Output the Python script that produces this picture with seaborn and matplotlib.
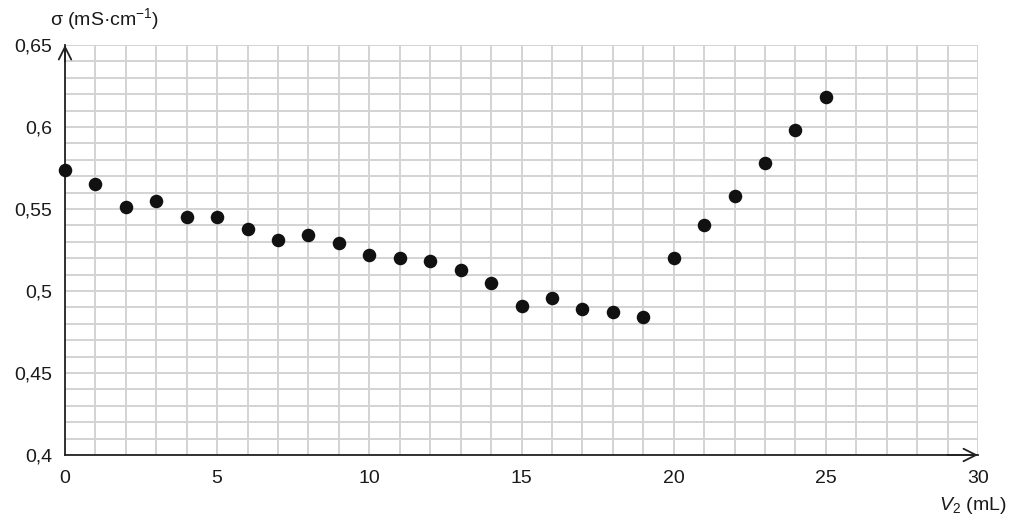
import numpy as np
import pandas as pd
import matplotlib
matplotlib.use("Agg")
import matplotlib.pyplot as plt
import seaborn as sns
from matplotlib.ticker import MultipleLocator, FuncFormatter

# ------------------------------------------------------------
# Data
# ------------------------------------------------------------
volume_ml = [0, 1, 2, 3, 4, 5, 6, 7, 8, 9, 10, 11, 12,
             13, 14, 15, 16, 17, 18, 19, 20, 21, 22, 23, 24, 25]
conductivity = [0.574, 0.565, 0.551, 0.555, 0.545, 0.545, 0.538, 0.531,
                0.534, 0.529, 0.522, 0.520, 0.518, 0.513, 0.505, 0.491,
                0.496, 0.489, 0.487, 0.484, 0.520, 0.540, 0.558, 0.578,
                0.598, 0.618]

x_ticks = [0, 5, 10, 15, 20, 25, 30]
y_ticks = [0.4, 0.45, 0.5, 0.55, 0.6, 0.65]

df = pd.DataFrame({"V2": volume_ml, "sigma": conductivity})

sns.set_style("white")
plt.rcParams["font.family"] = ["Liberation Sans", "DejaVu Sans"]
plt.rcParams["mathtext.fontset"] = "custom"
plt.rcParams["mathtext.rm"] = "Liberation Sans"
plt.rcParams["mathtext.it"] = "Liberation Sans:italic"

fig = plt.figure(figsize=(10.24, 5.30), dpi=100)
ax = fig.add_axes([65 / 1024, 75 / 530, 913 / 1024, 410 / 530])

ax.set_xlim(0, 30)
ax.set_ylim(0.4, 0.65)

# grid: every 1 mL and every 0.01 mS/cm
ax.xaxis.set_minor_locator(MultipleLocator(1))
ax.yaxis.set_minor_locator(MultipleLocator(0.01))
ax.set_xticks(x_ticks)
ax.set_yticks(y_ticks)
ax.grid(which="both", color="#d3d3d3", linewidth=1.4, zorder=0)
ax.set_axisbelow(True)

comma = FuncFormatter(lambda v, _: f"{v:g}".replace(".", ","))
ax.xaxis.set_major_formatter(comma)
ax.yaxis.set_major_formatter(comma)

ax.tick_params(which="major", direction="inout", length=12, width=1.2,
               color="#222222", labelsize=14, labelcolor="#1a1a1a")
ax.tick_params(which="minor", direction="inout", length=8, width=1.0,
               color="#222222")
ax.tick_params(axis="x", which="major", pad=5)
ax.tick_params(axis="y", which="major", pad=3)

for side in ["top", "right"]:
    ax.spines[side].set_visible(False)
for side in ["left", "bottom"]:
    ax.spines[side].set_color("#222222")
    ax.spines[side].set_linewidth(1.3)

# arrow heads at the ends of the axes
ax.annotate("", xy=(30, 0.4), xytext=(29, 0.4), annotation_clip=False,
            arrowprops=dict(arrowstyle="->,head_length=0.9,head_width=0.45",
                            color="#222222", lw=1.3, shrinkA=0, shrinkB=0))
ax.annotate("", xy=(0, 0.65), xytext=(0, 0.64), annotation_clip=False,
            arrowprops=dict(arrowstyle="->,head_length=0.9,head_width=0.45",
                            color="#222222", lw=1.3, shrinkA=0, shrinkB=0))

sns.scatterplot(data=df, x="V2", y="sigma", ax=ax, s=95, color="#111111",
                edgecolor="#111111", linewidth=0, zorder=3, clip_on=False)

ax.set_xlabel("")
ax.set_ylabel("")

fig.text(50 / 1024, 1 - 19 / 530, "σ (mS·cm$^{\\mathrm{-}1}$)", fontsize=14,
         ha="left", va="center", color="#1a1a1a")
fig.text(1006 / 1024, 1 - 506 / 530, "$V_2$ (mL)", fontsize=14,
         ha="right", va="center", color="#1a1a1a")

fig.savefig("out.png", dpi=100, facecolor="white")
